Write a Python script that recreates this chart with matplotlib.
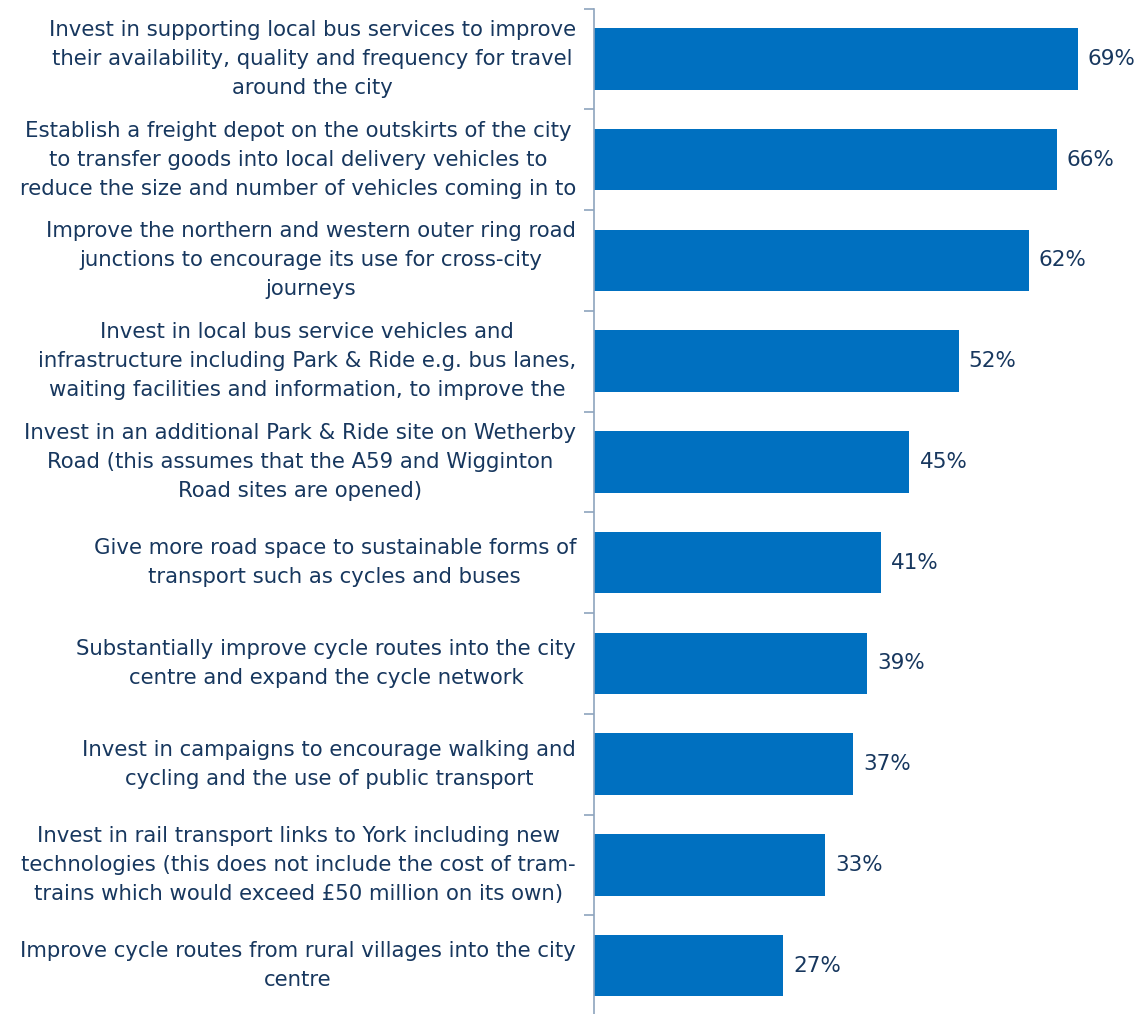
import matplotlib
matplotlib.use("Agg")
import matplotlib.pyplot as plt

categories = [
    "Invest in supporting local bus services to improve\ntheir availability, quality and frequency for travel\naround the city",
    "Establish a freight depot on the outskirts of the city\nto transfer goods into local delivery vehicles to\nreduce the size and number of vehicles coming in to",
    "Improve the northern and western outer ring road\njunctions to encourage its use for cross-city\njourneys",
    "Invest in local bus service vehicles and\ninfrastructure including Park & Ride e.g. bus lanes,\nwaiting facilities and information, to improve the",
    "Invest in an additional Park & Ride site on Wetherby\nRoad (this assumes that the A59 and Wigginton\nRoad sites are opened)",
    "Give more road space to sustainable forms of\ntransport such as cycles and buses",
    "Substantially improve cycle routes into the city\ncentre and expand the cycle network",
    "Invest in campaigns to encourage walking and\ncycling and the use of public transport",
    "Invest in rail transport links to York including new\ntechnologies (this does not include the cost of tram-\ntrains which would exceed £50 million on its own)",
    "Improve cycle routes from rural villages into the city\ncentre",
]
values = [69, 66, 62, 52, 45, 41, 39, 37, 33, 27]

bar_color = "#0070C0"
text_color = "#17375E"
axis_color = "#8EA4BE"

W, H = 1138, 1014
fig = plt.figure(figsize=(W / 100, H / 100), dpi=100)
ax_left = 594 / W
ax_top = 1 - 8.6 / H
ax_bottom = -2 / H
ax = fig.add_axes([ax_left, ax_bottom, 1 - ax_left, ax_top - ax_bottom])

n = len(categories)
ypos = list(range(n))
ax.barh(ypos, values, height=0.61, color=bar_color, zorder=2)
ax.set_ylim(n - 0.5, -0.5)
ax.set_xlim(0, 77.6)

for y, v in zip(ypos, values):
    ax.annotate(f"{v}%", xy=(v, y), xytext=(10, 0), textcoords="offset pixels",
                ha="left", va="center", fontsize=15.5, color=text_color)

for y, lab in zip(ypos, categories):
    ax.annotate(lab, xy=(0, y), xycoords="data", xytext=(-18, 0),
                textcoords="offset pixels", ha="right", va="center",
                multialignment="center", fontsize=15.3, color=text_color,
                linespacing=1.56)

for s in ["top", "right", "bottom"]:
    ax.spines[s].set_visible(False)
ax.spines["left"].set_color(axis_color)
ax.spines["left"].set_linewidth(1.2)
ax.set_xticks([])
ax.set_yticks([i - 0.5 for i in range(n + 1)])
ax.set_yticklabels([])
ax.tick_params(axis="y", length=7, color=axis_color, width=1.2, direction="out")

fig.savefig("out.png", dpi=100)
